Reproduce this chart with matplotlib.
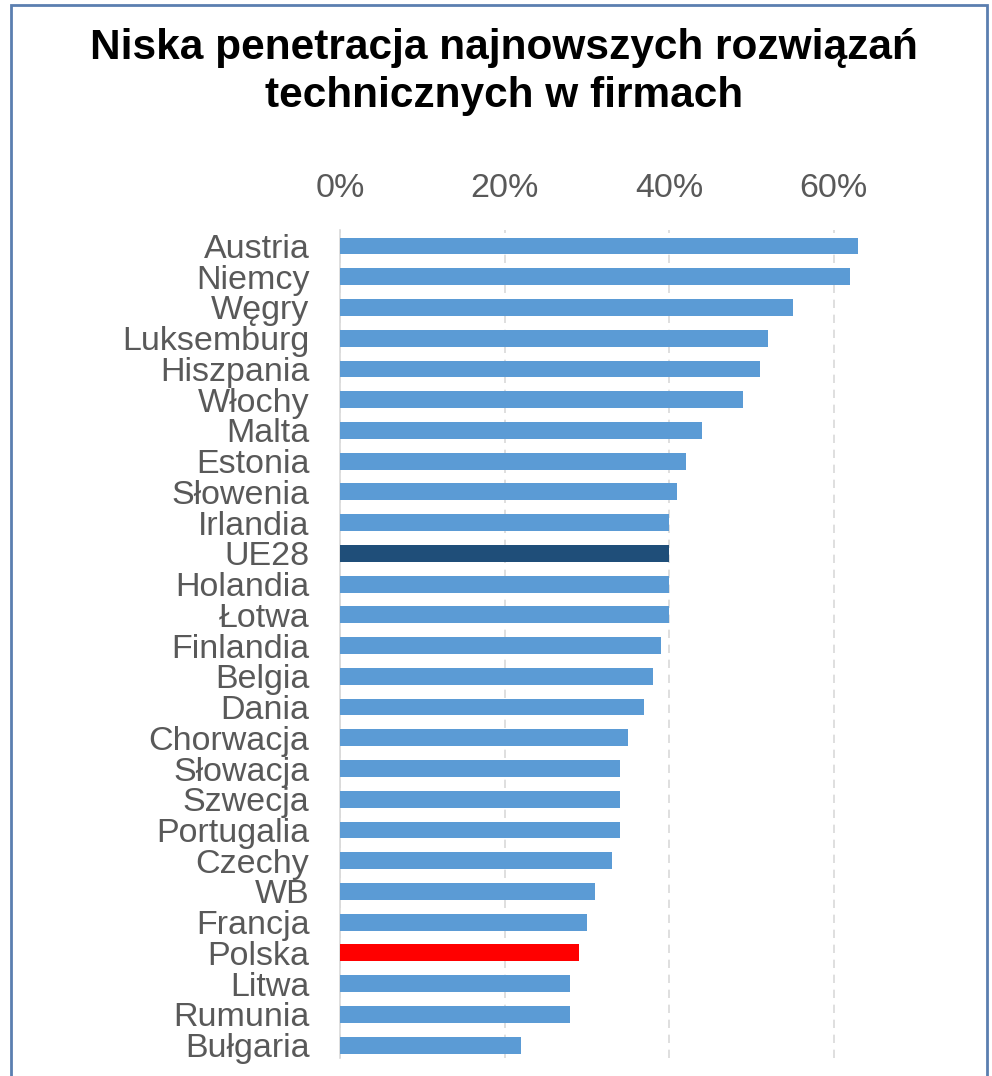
import matplotlib
matplotlib.use("Agg")
import matplotlib.pyplot as plt
from matplotlib.patches import Rectangle
from matplotlib.ticker import PercentFormatter

# data (share of firms, %)
countries = ["Austria", "Niemcy", "Węgry", "Luksemburg", "Hiszpania", "Włochy",
             "Malta", "Estonia", "Słowenia", "Irlandia", "UE28", "Holandia",
             "Łotwa", "Finlandia", "Belgia", "Dania", "Chorwacja", "Słowacja",
             "Szwecja", "Portugalia", "Czechy", "WB", "Francja", "Polska",
             "Litwa", "Rumunia", "Bułgaria"]
values = [63, 62, 55, 52, 51, 49, 44, 42, 41, 40, 40, 40, 40, 39, 38, 37,
          35, 34, 34, 34, 33, 31, 30, 29, 28, 28, 22]
ticks = [0, 20, 40, 60]

plt.rcParams['font.family'] = ['Liberation Sans', 'DejaVu Sans']

colors = []
for c in countries:
    if c == "UE28":
        colors.append("#1F4E79")
    elif c == "Polska":
        colors.append("#FF0000")
    else:
        colors.append("#5B9BD5")

fig = plt.figure(figsize=(9.92, 10.76), dpi=100)
ax = fig.add_axes([0.3427, 0.0167, 0.5393, 0.7695])

ypos = list(range(len(countries)))
ax.barh(ypos, values, height=0.55, color=colors, zorder=3)

ax.set_xlim(0, 65)
ax.set_ylim(26.42, -0.52)
ax.set_xticks(ticks)
ax.xaxis.set_major_formatter(PercentFormatter(decimals=0))
ax.xaxis.tick_top()
ax.set_yticks(ypos)
ax.set_yticklabels(countries)
ax.tick_params(axis='x', length=0, pad=19, labelsize=24.5, labelcolor="#595959")
ax.tick_params(axis='y', length=0, pad=22, labelsize=24.5, labelcolor="#595959")
ax.grid(axis='x', color="#D9D9D9", linestyle=(0, (5, 4)), linewidth=1.2, zorder=0)
for s in ["top", "right", "bottom"]:
    ax.spines[s].set_visible(False)
ax.spines["left"].set_color("#D9D9D9")
ax.spines["left"].set_linewidth(1.2)

fig.text(0.508, 0.933, "Niska penetracja najnowszych rozwiązań\ntechnicznych w firmach",
         ha="center", va="center", fontsize=30.5, fontweight="bold",
         linespacing=1.27, color="black")

# outer frame
fig.patches.append(Rectangle((0.011, -0.01), 0.984, 1.005, transform=fig.transFigure,
                             fill=False, edgecolor="#5B7FB0", linewidth=2))

fig.savefig("out.png", dpi=100)
